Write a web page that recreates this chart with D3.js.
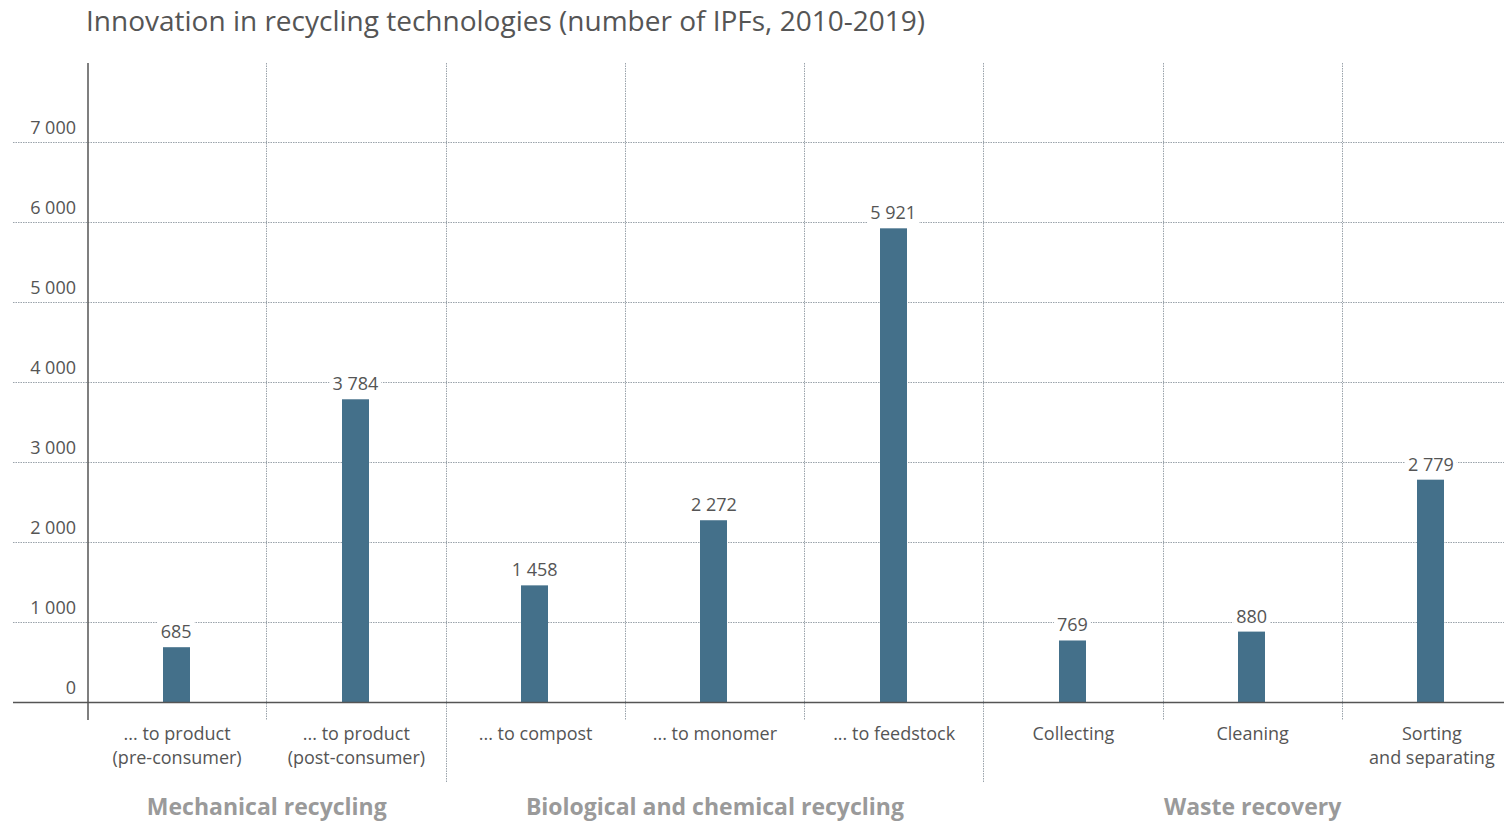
<!DOCTYPE html>
<html>
<head>
<meta charset="utf-8">
<script src="https://cdn.jsdelivr.net/npm/d3@7"></script>
<style>
  body { margin: 0; background: #fff; }
  svg { display: block; font-family: "Open Sans", "Noto Sans", sans-serif; }
</style>
</head>
<body>
<div id="chart"></div>
<script>
// Chart data
const categories = [
  ["... to product", "(pre-consumer)"],
  ["... to product", "(post-consumer)"],
  ["... to compost"],
  ["... to monomer"],
  ["... to feedstock"],
  ["Collecting"],
  ["Cleaning"],
  ["Sorting", "and separating"]
];
const values = [685, 3784, 1458, 2272, 5921, 769, 880, 2779];
const groups = ["Mechanical recycling", "Biological and chemical recycling", "Waste recovery"];
const groupSpans = [[0, 1], [2, 4], [5, 7]];
const yTicks = [0, 1000, 2000, 3000, 4000, 5000, 6000, 7000];
const title = "Innovation in recycling technologies (number of IPFs, 2010-2019)";

const width = 1504;
const height = 823;
const fmt = v => d3.format(",")(v).replace(/,/g, " ");

const svg = d3.select("#chart")
  .append("svg")
  .attr("width", width)
  .attr("height", height);

// Scales
const xScale = d3.scaleBand()
  .domain(d3.range(categories.length))
  .range([87.5, 87.5 + 179.25 * categories.length])
  .padding(0);

const yScale = d3.scaleLinear()
  .domain([0, 7000])
  .range([702, 142]);

const barW = 27;

// Title
svg.append("text")
  .attr("x", 86)
  .attr("y", 31)
  .attr("font-size", 28)
  .attr("fill", "#555")
  .text(title);

// Horizontal gridlines
svg.append("g")
  .selectAll("line")
  .data(yTicks.filter(d => d > 0))
  .enter()
  .append("line")
  .attr("x1", 13)
  .attr("x2", width)
  .attr("y1", d => yScale(d) + 0.5)
  .attr("y2", d => yScale(d) + 0.5)
  .attr("stroke", "#9aa3ab")
  .attr("stroke-width", 1)
  .attr("stroke-dasharray", "1.5 1");

// Vertical separators
const groupEnds = groupSpans.slice(0, -1).map(s => s[1] + 1);
svg.append("g")
  .selectAll("line")
  .data(d3.range(1, categories.length))
  .enter()
  .append("line")
  .attr("x1", d => Math.floor(xScale(d)) + 0.5)
  .attr("x2", d => Math.floor(xScale(d)) + 0.5)
  .attr("y1", 63)
  .attr("y2", d => groupEnds.includes(d) ? 782 : 720)
  .attr("stroke", "#9aa3ab")
  .attr("stroke-width", 1)
  .attr("stroke-dasharray", "1.5 1");

// Y tick labels
svg.append("g")
  .selectAll("text")
  .data(yTicks)
  .enter()
  .append("text")
  .attr("x", 76)
  .attr("y", d => yScale(d) - 8)
  .attr("text-anchor", "end")
  .attr("font-size", 18)
  .attr("fill", "#555")
  .text(fmt);

// Bars
svg.append("g")
  .selectAll("rect")
  .data(values)
  .enter()
  .append("rect")
  .attr("x", (d, i) => Math.round(xScale(i) + xScale.bandwidth() / 2 - barW / 2) - 1)
  .attr("y", d => yScale(d))
  .attr("width", barW)
  .attr("height", d => yScale(0) - yScale(d))
  .attr("fill", "#44708a");

// Value labels with white backing
const vl = svg.append("g")
  .selectAll("g")
  .data(values)
  .enter()
  .append("g")
  .attr("transform", (d, i) => `translate(${xScale(i) + xScale.bandwidth() / 2 - 1},${yScale(d) - 9})`);

vl.append("text")
  .attr("text-anchor", "middle")
  .attr("font-size", 18)
  .attr("fill", "#555")
  .text(fmt)
  .each(function() {
    const b = this.getBBox();
    d3.select(this.parentNode).insert("rect", "text")
      .attr("x", b.x - 3)
      .attr("y", b.y)
      .attr("width", b.width + 6)
      .attr("height", b.height)
      .attr("fill", "#fff");
  });

// Baseline and y axis line
svg.append("line")
  .attr("x1", 13)
  .attr("x2", width)
  .attr("y1", yScale(0) + 0.5)
  .attr("y2", yScale(0) + 0.5)
  .attr("stroke", "#555")
  .attr("stroke-width", 1.5);

svg.append("line")
  .attr("x1", 88)
  .attr("x2", 88)
  .attr("y1", 63)
  .attr("y2", 720)
  .attr("stroke", "#555")
  .attr("stroke-width", 1.5);

// Category labels
const cl = svg.append("g")
  .selectAll("text")
  .data(categories)
  .enter()
  .append("text")
  .attr("x", (d, i) => xScale(i) + xScale.bandwidth() / 2)
  .attr("y", 740)
  .attr("text-anchor", "middle")
  .attr("font-size", 18)
  .attr("fill", "#555");

cl.selectAll("tspan")
  .data(d => d)
  .enter()
  .append("tspan")
  .attr("x", function() { return d3.select(this.parentNode).attr("x"); })
  .attr("dy", (d, i) => i === 0 ? 0 : 24)
  .text(d => d);

// Group labels
svg.append("g")
  .selectAll("text")
  .data(groups)
  .enter()
  .append("text")
  .attr("x", (d, i) => (xScale(groupSpans[i][0]) + xScale(groupSpans[i][1]) + xScale.bandwidth()) / 2)
  .attr("y", 815)
  .attr("text-anchor", "middle")
  .attr("font-size", 23)
  .attr("font-weight", "bold")
  .attr("fill", "#9a9a9a")
  .text(d => d);
</script>
</body>
</html>
